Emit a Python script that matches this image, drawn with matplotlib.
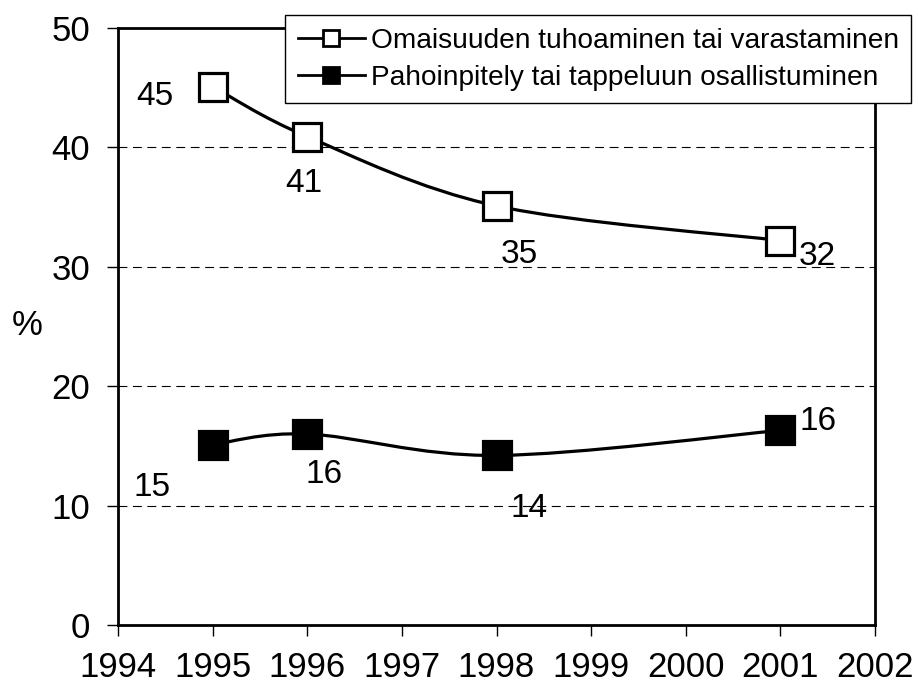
import matplotlib
matplotlib.use("Agg")
import matplotlib.pyplot as plt
from matplotlib.path import Path
from matplotlib.patches import PathPatch
from matplotlib.lines import Line2D

plt.rcParams['font.family'] = ['Liberation Sans', 'DejaVu Sans']

# Data
years = [1995, 1996, 1998, 2001]
omaisuus = [45.1, 40.9, 35.1, 32.2]
pahoinpitely = [15.1, 16.0, 14.2, 16.3]
series_names = ["Omaisuuden tuhoaminen tai varastaminen",
                "Pahoinpitely tai tappeluun osallistuminen"]
xticks = list(range(1994, 2003))
yticks = [0, 10, 20, 30, 40, 50]

# label offsets in pixels (dx, dy) for each point
offs_open = [(-58, -10), (-3, -47), (23, -49), (37, -16)]
offs_fill = [(-61, -43), (17, -41), (33, -53), (38, 9)]


def smooth_path(xs, ys):
    # Excel-style smoothed line (Bezier through the points)
    pts = list(zip(xs, ys))
    n = len(pts)
    verts = [pts[0]]
    codes = [Path.MOVETO]
    for i in range(n - 1):
        p0 = pts[max(i - 1, 0)]
        p1 = pts[i]
        p2 = pts[i + 1]
        p3 = pts[min(i + 2, n - 1)]
        c1 = (p1[0] + (p2[0] - p0[0]) / 6, p1[1] + (p2[1] - p0[1]) / 6)
        c2 = (p2[0] - (p3[0] - p1[0]) / 6, p2[1] - (p3[1] - p1[1]) / 6)
        verts += [c1, c2, p2]
        codes += [Path.CURVE4] * 3
    return Path(verts, codes)


fig = plt.figure(figsize=(9.18, 6.93), dpi=100)
ax = fig.add_axes([118 / 918, 1 - 625 / 693, 757 / 918, 597 / 693])

for vals, face, offs in [(omaisuus, 'white', offs_open), (pahoinpitely, 'black', offs_fill)]:
    ax.add_patch(PathPatch(smooth_path(years, vals), fill=False, lw=2.3,
                           edgecolor='black', zorder=3))
    ax.plot(years, vals, ls='none', marker='s', markersize=20, mfc=face,
            mec='black', mew=2.3, zorder=4, clip_on=False)
    for x, v, (dx, dy) in zip(years, vals, offs):
        ax.annotate(f"{v:.0f}", (x, v), xytext=(dx, dy), textcoords='offset pixels',
                    ha='center', va='center', fontsize=24)

ax.set_xlim(1994, 2002)
ax.set_ylim(0, 50)
ax.set_xticks(xticks)
ax.set_yticks(yticks)
ax.tick_params(axis='both', labelsize=25, direction='out', length=8, width=1, color='black')
ax.tick_params(axis='x', pad=11)
ax.tick_params(axis='y', pad=12)
for s in ax.spines.values():
    s.set_linewidth(2)

for y in [10, 20, 30, 40]:
    ax.axhline(y, color='black', lw=0.8, ls=(0, (8, 5)), zorder=1)

ax.set_ylabel('%', rotation=0, fontsize=25, va='center', ha='center')
ax.yaxis.set_label_coords(-0.12, 0.5025)

handles = [Line2D([], [], color='black', lw=2, marker='s', markersize=12, mfc='white',
                  mec='black', mew=2),
           Line2D([], [], color='black', lw=2, marker='s', markersize=12, mfc='black',
                  mec='black', mew=2)]
leg = ax.legend(handles, series_names, loc='upper left', bbox_to_anchor=(0.2206, 1.0218),
                borderaxespad=0, fontsize=20.2, frameon=True, fancybox=False,
                framealpha=1, edgecolor='black', handlelength=2.4, handletextpad=0.2,
                labelspacing=0.4, borderpad=0.45)
leg.get_frame().set_linewidth(1)
leg.set_zorder(5)

fig.savefig("out.png", dpi=100)
